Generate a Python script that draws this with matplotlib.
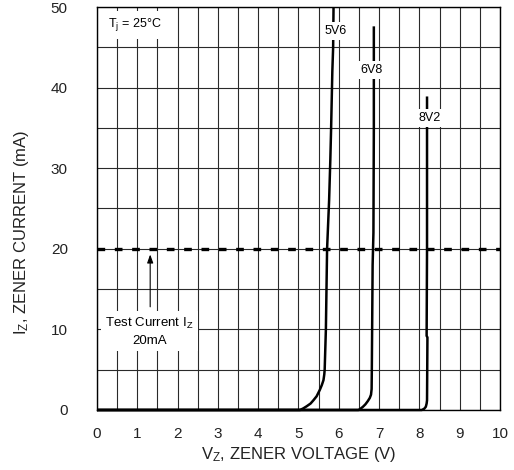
"""Zener diode reverse characteristics, Tj = 25 C."""

import matplotlib

matplotlib.use("Agg")
import matplotlib.pyplot as plt
import numpy as np

plt.rcParams["font.family"] = ["Liberation Sans", "DejaVu Sans"]
plt.rcParams["mathtext.default"] = "regular"

# curve data, volts vs mA
v_5v6 = [0.0, 5.04, 5.12, 5.20, 5.30, 5.37, 5.45, 5.53, 5.58, 5.62, 5.64, 5.65,
         5.68, 5.71, 5.76, 5.79, 5.81, 5.84, 5.86, 5.87]
i_5v6 = [0.0, 0.0, 0.2, 0.45, 0.8, 1.2, 1.7, 2.5, 3.1, 3.7, 4.4, 5.0,
         10.0, 20.0, 26.0, 31.0, 35.0, 42.0, 45.0, 50.0]

v_6v8 = [0.0, 6.49, 6.55, 6.60, 6.66, 6.72, 6.77, 6.80, 6.815, 6.82, 6.84, 6.86, 6.87, 6.87]
i_6v8 = [0.0, 0.0, 0.2, 0.4, 0.7, 1.1, 1.5, 1.9, 2.6, 5.0, 18.0, 22.0, 35.0, 47.6]

v_8v2 = [0.0, 8.06, 8.12, 8.16, 8.18, 8.19, 8.20, 8.18, 8.19, 8.19]
i_8v2 = [0.0, 0.0, 0.15, 0.4, 0.8, 1.2, 9.0, 9.2, 20.0, 38.9]

curve_labels = ["5V6", "6V8", "8V2"]
label_pos = [(5.93, 47.0), (6.82, 42.2), (8.25, 36.2)]

test_current = 20.0
x_ticks = list(range(0, 11))
y_ticks = [0, 10, 20, 30, 40, 50]

fig = plt.figure(figsize=(5.14, 4.70), dpi=100)
ax = fig.add_axes([0.1887, 0.1277, 0.784, 0.8574])

ax.set_xlim(0, 10)
ax.set_ylim(0, 50)
ax.set_xticks(x_ticks)
ax.set_yticks(y_ticks)
ax.set_xticks(np.arange(0, 10.01, 0.5), minor=True)
ax.set_yticks(np.arange(0, 50.01, 5), minor=True)
ax.grid(which="both", color="#2a2a2a", linewidth=0.8)
ax.tick_params(which="both", length=0)
ax.tick_params(axis="x", pad=12, labelsize=11, labelcolor="#222222")
ax.tick_params(axis="y", pad=21, labelsize=11, labelcolor="#222222")
ax.set_axisbelow(True)
for spine in ax.spines.values():
    spine.set_linewidth(1.0)

ax.plot([0, 10], [test_current, test_current], color="black", linewidth=2.4,
        dashes=(2.3, 2.9), zorder=3)

for xs, ys in [(v_5v6, i_5v6), (v_6v8, i_6v8), (v_8v2, i_8v2)]:
    ax.plot(xs, ys, color="black", linewidth=1.8, solid_joinstyle="round",
            solid_capstyle="butt", clip_on=False, zorder=4)

box = dict(boxstyle="square,pad=0.25", facecolor="white", edgecolor="none")
for text, (x, y) in zip(curve_labels, label_pos):
    ax.text(x, y, text, fontsize=9, ha="center", va="center", bbox=box, zorder=5)

ax.text(0.94, 47.8, "T$_j$ = 25°C", fontsize=9, ha="center", va="center",
        bbox=dict(boxstyle="square,pad=0.45", facecolor="white", edgecolor="none"),
        zorder=5)

ax.text(1.3, 9.7, "Test Current I$_Z$\n20mA", fontsize=9.5, ha="center", va="center",
        multialignment="center", linespacing=1.45,
        bbox=dict(boxstyle="square,pad=0.3", facecolor="white", edgecolor="none"),
        zorder=5)
ax.annotate("", xy=(1.32, 19.3), xytext=(1.32, 12.8),
            arrowprops=dict(arrowstyle="-|>,head_length=0.5,head_width=0.18",
                            color="black", linewidth=0.8, shrinkA=0, shrinkB=0),
            zorder=5)

ax.set_xlabel("V$_Z$, ZENER VOLTAGE (V)", fontsize=12, labelpad=3, color="#222222")
ax.set_ylabel("I$_Z$, ZENER CURRENT (mA)", fontsize=12, color="#222222")
ax.yaxis.set_label_coords(-0.165, 0.44)

fig.savefig("out.png", dpi=100)
